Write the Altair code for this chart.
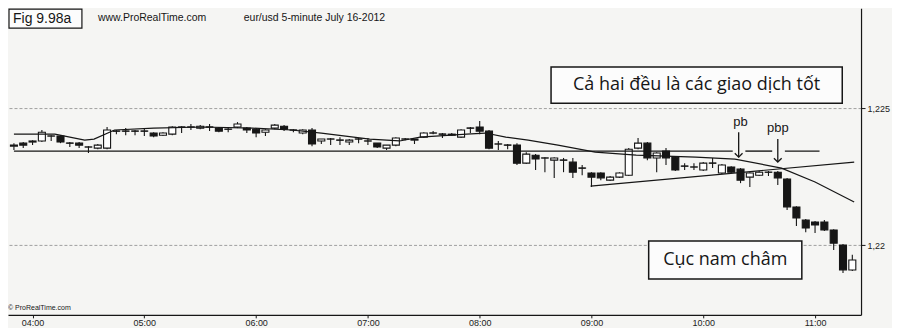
import altair as alt
import pandas as pd

# ---- candle data: eur/usd 5-minute, July 16 2012 (minutes after midnight) ----
times = list(range(230, 681, 5))  # 03:50 ... 11:20

opens = [
    1.22361, 1.22372, 1.22376, 1.22380, 1.22398, 1.22398, 1.22372, 1.22372, 1.22358, 1.22354,
    1.22354, 1.22416, 1.22416, 1.22416, 1.22416, 1.22409, 1.22401, 1.22405, 1.22431, 1.22431,
    1.22427, 1.22431, 1.22427, 1.22423, 1.22431, 1.22427, 1.22423, 1.22412, 1.22427, 1.22434,
    1.22420, 1.22409, 1.22420, 1.22380, 1.22387, 1.22383, 1.22376, 1.22387, 1.22380, 1.22372,
    1.22354, 1.22365, 1.22387, 1.22383, 1.22394, 1.22409, 1.22405, 1.22401, 1.22394, 1.22427,
    1.22431, 1.22416, 1.22369, 1.22365, 1.22365, 1.22299, 1.22328, 1.22318, 1.22310, 1.22310,
    1.22303, 1.22281, 1.22263, 1.22263, 1.22237, 1.22248, 1.22255, 1.22354, 1.22372, 1.22318,
    1.22343, 1.22321, 1.22288, 1.22285, 1.22274, 1.22299, 1.22263, 1.22285, 1.22277, 1.22248,
    1.22255, 1.22266, 1.22266, 1.22241, 1.22139, 1.22091, 1.22084, 1.22084, 1.22055, 1.22000,
    1.21909]
closes = [
    1.22365, 1.22365, 1.22380, 1.22412, 1.22398, 1.22376, 1.22372, 1.22365, 1.22358, 1.22365,
    1.22420, 1.22416, 1.22416, 1.22416, 1.22416, 1.22398, 1.22409, 1.22431, 1.22431, 1.22431,
    1.22434, 1.22431, 1.22416, 1.22423, 1.22442, 1.22420, 1.22409, 1.22420, 1.22438, 1.22423,
    1.22420, 1.22420, 1.22369, 1.22387, 1.22387, 1.22383, 1.22383, 1.22387, 1.22380, 1.22358,
    1.22365, 1.22391, 1.22387, 1.22387, 1.22409, 1.22409, 1.22405, 1.22405, 1.22420, 1.22427,
    1.22416, 1.22354, 1.22369, 1.22365, 1.22299, 1.22332, 1.22314, 1.22318, 1.22318, 1.22310,
    1.22266, 1.22281, 1.22248, 1.22245, 1.22248, 1.22263, 1.22350, 1.22372, 1.22318, 1.22336,
    1.22318, 1.22274, 1.22288, 1.22285, 1.22299, 1.22299, 1.22292, 1.22266, 1.22237, 1.22263,
    1.22266, 1.22266, 1.22245, 1.22139, 1.22099, 1.22062, 1.22073, 1.22055, 1.22007, 1.21909,
    1.21945]
highs = [
    1.22372, 1.22376, 1.22383, 1.22420, 1.22401, 1.22401, 1.22376, 1.22376, 1.22361, 1.22369,
    1.22431, 1.22420, 1.22427, 1.22420, 1.22427, 1.22412, 1.22412, 1.22434, 1.22434, 1.22442,
    1.22438, 1.22442, 1.22431, 1.22427, 1.22449, 1.22431, 1.22427, 1.22423, 1.22442, 1.22438,
    1.22423, 1.22423, 1.22427, 1.22387, 1.22391, 1.22394, 1.22387, 1.22391, 1.22391, 1.22372,
    1.22365, 1.22394, 1.22391, 1.22387, 1.22412, 1.22416, 1.22409, 1.22409, 1.22423, 1.22431,
    1.22453, 1.22420, 1.22380, 1.22369, 1.22372, 1.22339, 1.22332, 1.22321, 1.22321, 1.22318,
    1.22318, 1.22292, 1.22266, 1.22266, 1.22252, 1.22266, 1.22354, 1.22391, 1.22376, 1.22339,
    1.22354, 1.22325, 1.22299, 1.22299, 1.22303, 1.22318, 1.22296, 1.22288, 1.22281, 1.22266,
    1.22270, 1.22270, 1.22270, 1.22245, 1.22142, 1.22095, 1.22088, 1.22091, 1.22058, 1.22004,
    1.21964]
lows = [
    1.22347, 1.22354, 1.22365, 1.22376, 1.22380, 1.22372, 1.22358, 1.22354, 1.22336, 1.22350,
    1.22350, 1.22405, 1.22401, 1.22401, 1.22398, 1.22394, 1.22398, 1.22401, 1.22409, 1.22420,
    1.22423, 1.22416, 1.22412, 1.22412, 1.22427, 1.22409, 1.22394, 1.22398, 1.22423, 1.22416,
    1.22412, 1.22405, 1.22361, 1.22369, 1.22365, 1.22365, 1.22365, 1.22372, 1.22365, 1.22354,
    1.22347, 1.22361, 1.22383, 1.22369, 1.22391, 1.22405, 1.22391, 1.22398, 1.22391, 1.22409,
    1.22405, 1.22350, 1.22347, 1.22350, 1.22292, 1.22296, 1.22274, 1.22266, 1.22245, 1.22266,
    1.22245, 1.22255, 1.22212, 1.22237, 1.22234, 1.22245, 1.22252, 1.22350, 1.22310, 1.22266,
    1.22292, 1.22270, 1.22274, 1.22274, 1.22270, 1.22281, 1.22259, 1.22263, 1.22226, 1.22212,
    1.22252, 1.22252, 1.22219, 1.22128, 1.22069, 1.22047, 1.22044, 1.22051, 1.21982, 1.21898,
    1.21905]

# moving average as drawn
ma_t = [230, 252, 268, 273, 284, 305, 331, 358, 379, 395, 421, 437, 448, 473, 483,
        494, 506, 522, 542, 564, 596, 617, 642, 660, 681]
ma_p = [1.22405, 1.22405, 1.22383, 1.22387, 1.22420, 1.22427, 1.22431, 1.22427, 1.22420,
        1.22409, 1.22387, 1.22380, 1.22394, 1.22405, 1.22409, 1.22394, 1.22383, 1.22365,
        1.22339, 1.22328, 1.22321, 1.22314, 1.22281, 1.22230, 1.22157]

# horizontal support line (segments broken by the arrows)
hl_start = [230, 622.6, 643.8]
hl_end = [615.8, 637.0, 662.4]
hl_level = [1.22343, 1.22343, 1.22343]

# rising trend line
tl_t = [539.5, 681]
tl_p = [1.22215, 1.22303]

# arrows + labels
arrow_t = [619, 640]
arrow_top = [1.22412, 1.22387]
arrow_tip = [1.22321, 1.22303]
arrow_lbl = ["pb", "pbp"]
lbl_t = [620, 640]
lbl_p = [1.22449, 1.22427]

# annotation boxes
notes = ["Cả hai đều là các giao dịch tốt", "Cục nam châm"]
box_t1 = [518.3, 570.7]
box_t2 = [674.6, 652.9]
box_p1 = [1.22650, 1.22015]
box_p2 = [1.22518, 1.21876]
note_t = [596.4, 611.8]
note_p = [1.22584, 1.21946]

hour_ticks = [240, 300, 360, 420, 480, 540, 600, 660]
price_ticks = [1.22, 1.225]

# ---------------------------------------------------------------------------
candles = pd.DataFrame({"t": times, "o": opens, "h": highs, "l": lows, "c": closes})
ma = pd.DataFrame({"t": ma_t, "p": ma_p})
hl = pd.DataFrame({"t1": hl_start, "t2": hl_end, "p": hl_level})
tl = pd.DataFrame({"t": tl_t, "p": tl_p})
arrows = pd.DataFrame({"t": arrow_t, "top": arrow_top, "tip": arrow_tip})
labels = pd.DataFrame({"t": lbl_t, "p": lbl_p, "txt": arrow_lbl})
boxes = pd.DataFrame({"t1": box_t1, "t2": box_t2, "p1": box_p1, "p2": box_p2})
notes_df = pd.DataFrame({"t": note_t, "p": note_p, "txt": notes})
one = pd.DataFrame({"k": [0]})

INK = "#161616"
xscale = alt.Scale(domain=[229.5, 682], nice=False, zero=False)
yscale = alt.Scale(domain=[1.21745, 1.22865], nice=False, zero=False)

xaxis = alt.Axis(
    values=hour_ticks, title=None, grid=False,
    labelExpr="(floor(datum.value/60) < 10 ? '0' : '') + floor(datum.value/60) + ':00'",
    tickSize=3, labelPadding=1, labelFontSize=9, labelFont="Liberation Sans",
    labelColor="#222", domainColor=INK, tickColor=INK, domainWidth=1.2,
)
yaxis = alt.Axis(
    orient="right", values=price_ticks, title=None,
    labelExpr="replace(format(datum.value, '.3~f'), '.', ',')",
    grid=True, gridDash=[3, 2], gridColor="#8a8a8a", gridWidth=0.8,
    tickSize=4, labelPadding=2, labelFontSize=9, labelFont="Liberation Sans",
    labelColor="#222", domainColor=INK, tickColor=INK, domainWidth=1.2,
)


def X(f):
    return alt.X(f, type="quantitative", scale=xscale, axis=xaxis)


def Y(f):
    return alt.Y(f, type="quantitative", scale=yscale, axis=yaxis)


wicks = alt.Chart(candles).mark_rule(color=INK, strokeWidth=1.1).encode(
    x=X("t"), y=Y("l"), y2="h")
bodies = alt.Chart(candles).mark_bar(size=7, stroke=INK, strokeWidth=1.1).encode(
    x=X("t"), y=Y("o"), y2="c",
    fill=alt.condition("datum.c > datum.o", alt.value("#ffffff"), alt.value(INK)))
dojis = alt.Chart(candles).transform_filter("datum.o == datum.c").mark_tick(
    orient="horizontal", size=8, thickness=1.3, color=INK).encode(x=X("t"), y=Y("c"))

ma_line = alt.Chart(ma).mark_line(color=INK, strokeWidth=1.2).encode(x=X("t"), y=Y("p"))
hline = alt.Chart(hl).mark_rule(color=INK, strokeWidth=1.4).encode(x=X("t1"), x2="t2", y=Y("p"))
trend = alt.Chart(tl).mark_line(color=INK, strokeWidth=1.2).encode(x=X("t"), y=Y("p"))

shafts = alt.Chart(arrows).mark_rule(color=INK, strokeWidth=1.3).encode(
    x=X("t"), y=Y("top"), y2="tip")
heads = alt.Chart(arrows).mark_point(
    shape="M-1,-1L0,0L1,-1", size=60, filled=False, stroke=INK, strokeWidth=1.3, opacity=1
).encode(x=X("t"), y=Y("tip"))
arrow_text = alt.Chart(labels).mark_text(
    font="Liberation Sans", fontSize=13, color=INK, baseline="middle", align="center"
).encode(x=X("t"), y=Y("p"), text="txt:N")

box_marks = alt.Chart(boxes).mark_rect(fill="#fcfcfc", stroke=INK, strokeWidth=1.5).encode(
    x=X("t1"), x2="t2", y=Y("p1"), y2="p2")
note_text = alt.Chart(notes_df).mark_text(
    font="Open Sans", fontSize=18, color=INK, baseline="middle", align="center"
).encode(x=X("t"), y=Y("p"), text="txt:N")

hdr_box = alt.Chart(one).mark_rect(fill="#fcfcfc", stroke=INK, strokeWidth=1.2).encode(
    x=alt.value(1), x2=alt.value(74), y=alt.value(1), y2=alt.value(20))
hdr1 = alt.Chart(one).mark_text(font="Liberation Sans", fontSize=14, color=INK,
                                align="left", baseline="middle").encode(
    x=alt.value(5), y=alt.value(10.5), text=alt.value("Fig 9.98a"))
hdr2 = alt.Chart(one).mark_text(font="Liberation Sans", fontSize=10.5, color=INK,
                                align="left", baseline="middle").encode(
    x=alt.value(90), y=alt.value(10), text=alt.value("www.ProRealTime.com"))
hdr3 = alt.Chart(one).mark_text(font="Liberation Sans", fontSize=10.5, color=INK,
                                align="left", baseline="middle").encode(
    x=alt.value(236), y=alt.value(10), text=alt.value("eur/usd  5-minute  July 16-2012"))
copyright = alt.Chart(one).mark_text(font="Liberation Sans", fontSize=7, color=INK,
                                     align="left", baseline="middle").encode(
    x=alt.value(0), y=alt.value(300), text=alt.value("© ProRealTime.com"))

chart = alt.layer(
    wicks, bodies, dojis, ma_line, hline, trend, shafts, heads, arrow_text,
    box_marks, note_text, hdr_box, hdr1, hdr2, hdr3, copyright,
).properties(
    width=854, height=307,
    padding={"left": 0, "top": 0, "right": 2, "bottom": 0},
    background="#f5f5f3",
).configure_view(strokeWidth=0)

chart.save("out.html", embed_options={"renderer": "svg", "actions": False})
